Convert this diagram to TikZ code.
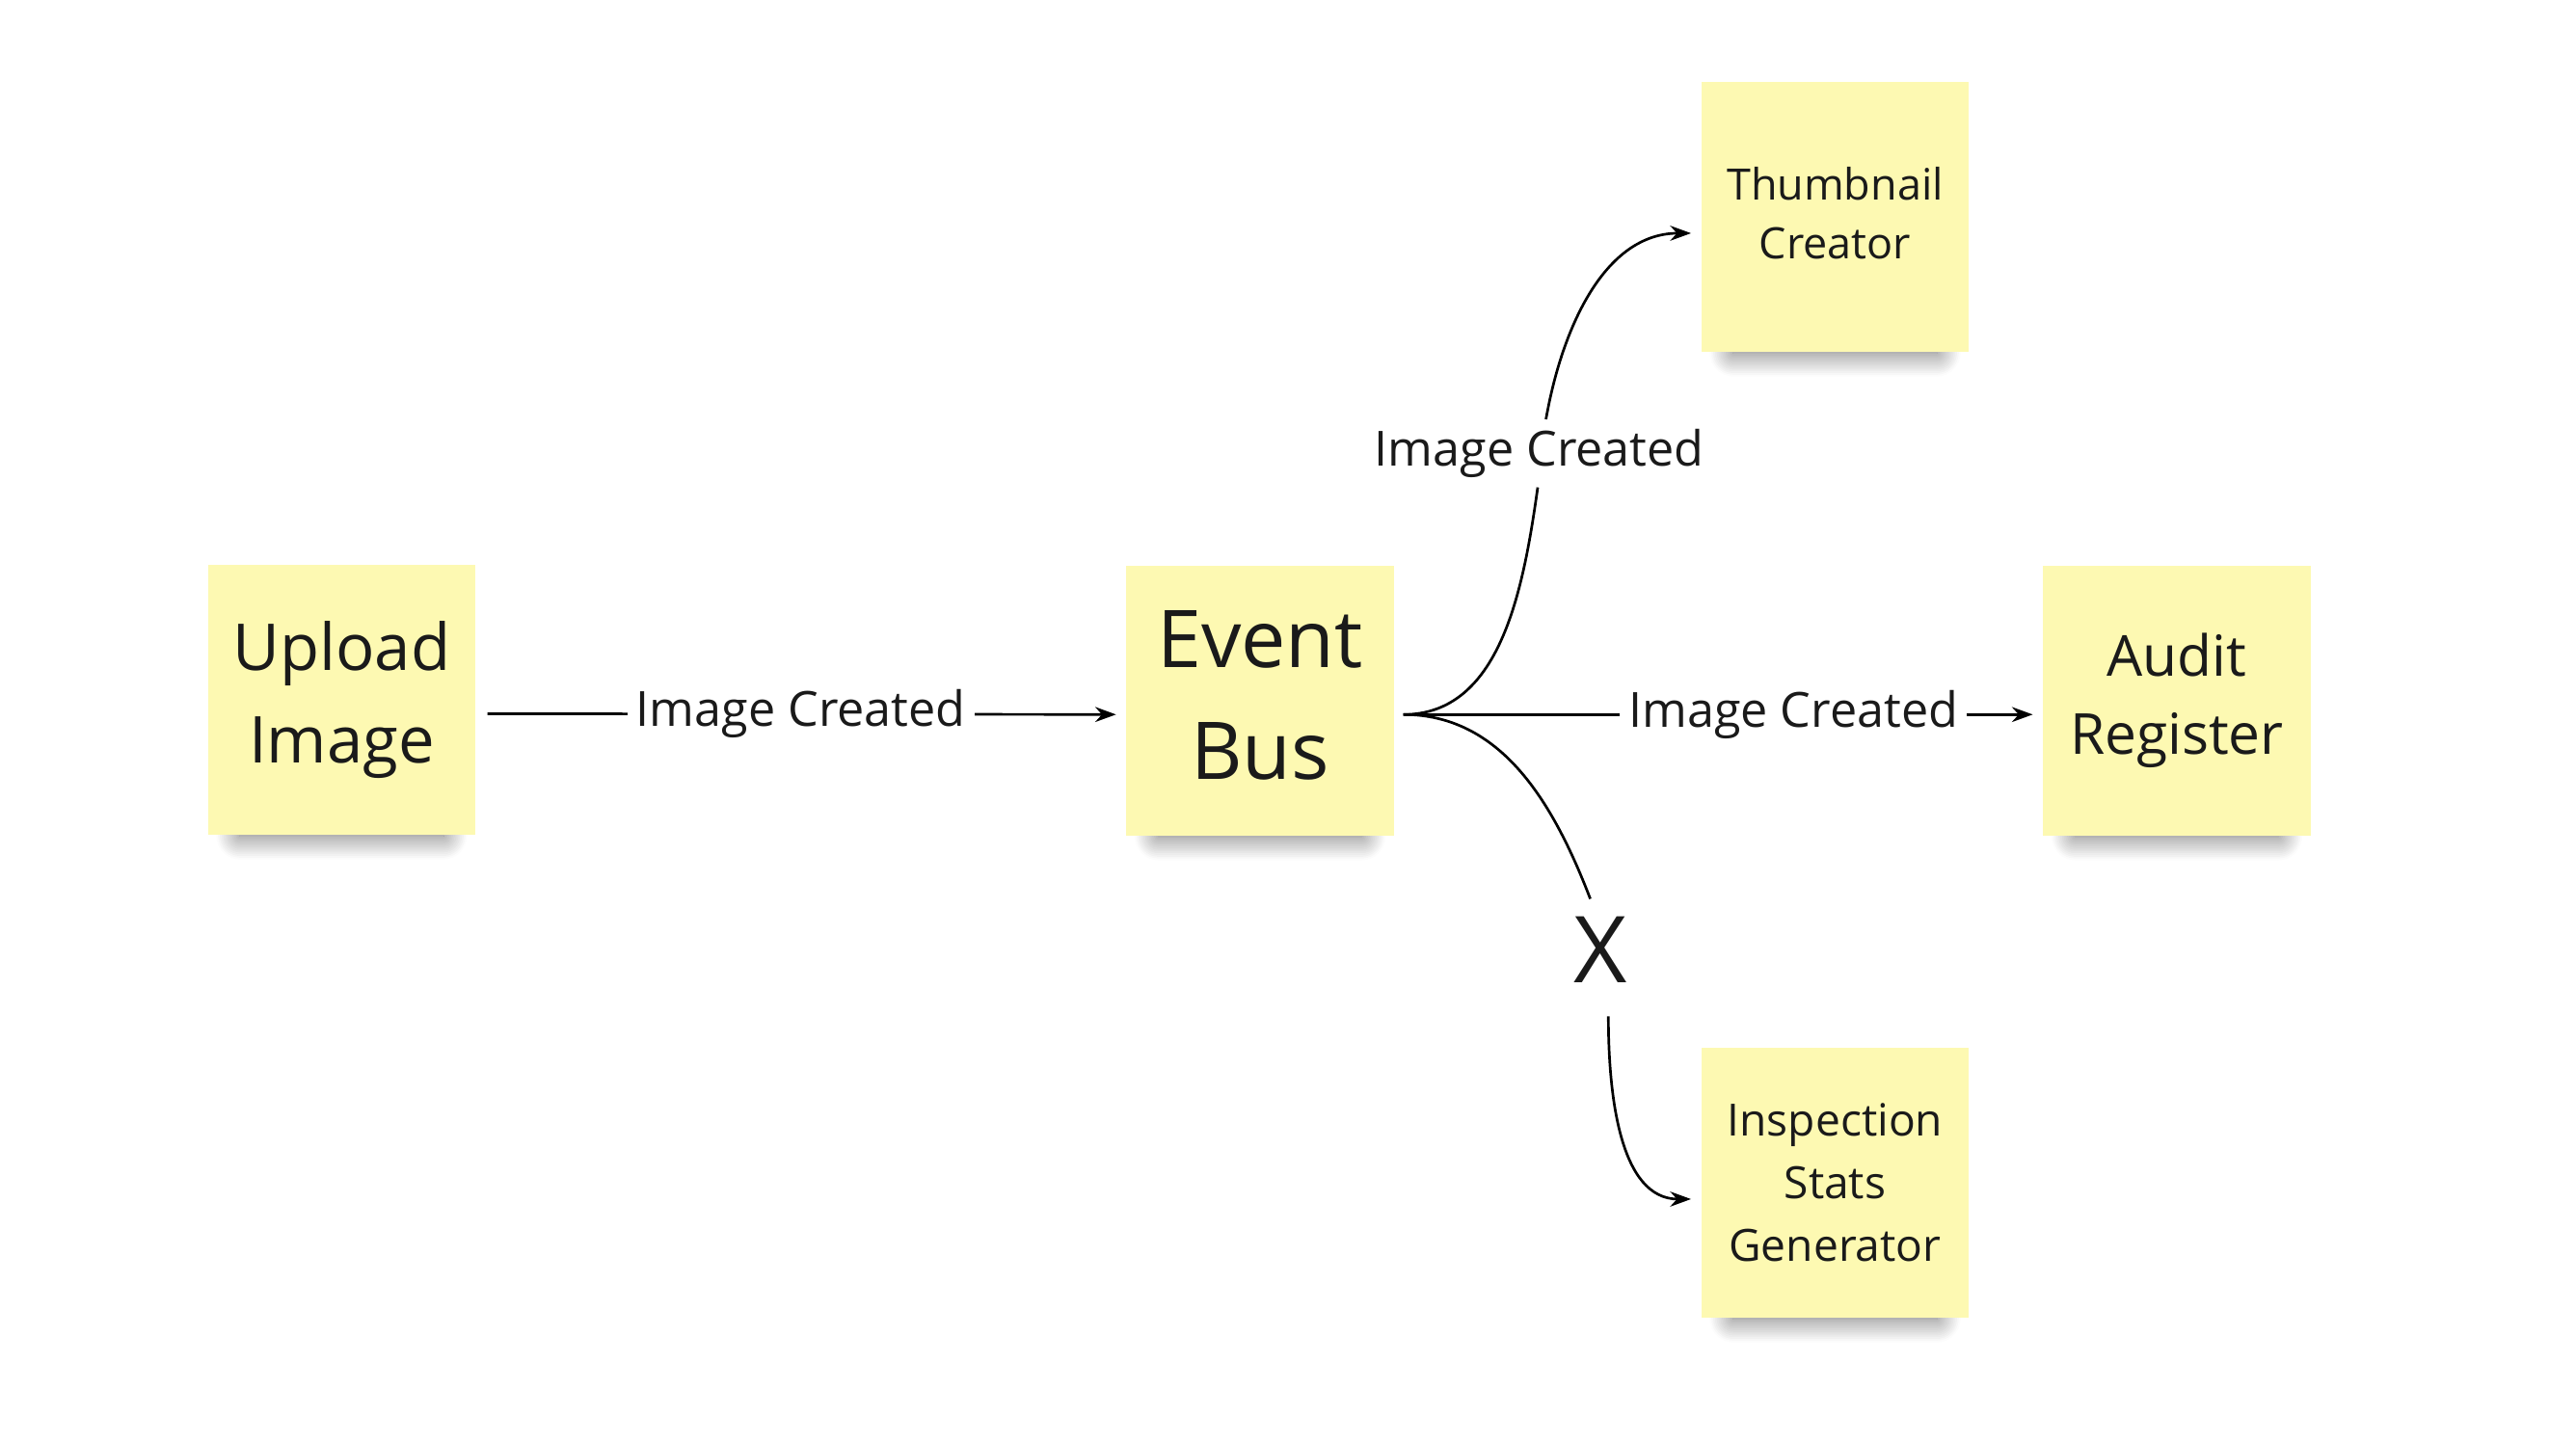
\documentclass[tikz,border=0pt]{standalone}
\usepackage{fontspec}
\setmainfont{Open Sans}
\usetikzlibrary{arrows.meta,shadows.blur}
\definecolor{postit}{RGB}{253,249,178}
\definecolor{encre}{RGB}{26,26,26}

\begin{document}
\begin{tikzpicture}[
    note/.style={fill=postit, text=encre, minimum width=1.63cm, minimum height=1.64cm,
      align=center, inner sep=0pt,
      blur shadow={shadow xshift=0mm, shadow yshift=-2.7mm, shadow scale=0.76,
        shadow opacity=60, shadow blur radius=1.9mm, shadow blur steps=14}},
    wire/.style={line width=0.45pt},
    flow/.style={wire, -{Stealth[length=3.6pt,width=2.6pt]}, shorten >=0.55mm},
    evt/.style={fill=white, text=encre, inner sep=1.5pt, font=\fontsize{8.4}{10}\selectfont}
  ]

    % Cadre de l'image
    \useasboundingbox (0,0) rectangle (15.68,8.78);

    % Décalage vertical des flèches par rapport au centre des post-its
    \pgfmathsetmacro{\dy}{-0.85}

    % Post-its
    \node[note, font=\fontsize{11.2}{16}\selectfont] (upload) at (2.08,4.52)
      {Upload\\Image};
    \node[note, font=\fontsize{13.8}{19.3}\selectfont] (bus) at (7.67,4.515)
      {\raisebox{2pt}{Event}\\\raisebox{2pt}{Bus}};
    \node[note, font=\fontsize{7.5}{10.1}\selectfont] (thumb) at (11.17,7.46)
      {\raisebox{1.3pt}{Thumbnail}\\\raisebox{1.3pt}{Creator}};
    \node[note, font=\fontsize{9.8}{13.6}\selectfont] (audit) at (13.25,4.515)
      {Audit\\Register};
    \node[note, font=\fontsize{7.7}{10.8}\selectfont] (insp) at (11.17,1.58)
      {Inspection\\Stats\\Generator};

    % Upload -> Event Bus
    \draw[flow, shorten <=0.65mm] ([yshift=\dy mm]upload.east) --
      node[evt] (lblup) {Image Created} ([yshift=\dy mm]bus.west);

    % Event Bus -> Audit Register
    \draw[flow, shorten <=0.5mm] ([yshift=\dy mm]bus.east) --
      node[evt, pos=0.616] (lblaudit) {Image Created} ([yshift=\dy mm]audit.west);

    % Event Bus -> Thumbnail Creator
    \node[evt] (lblthumb) at (9.37,6.02) {Image Created};
    \draw[wire, shorten <=0.5mm] ([yshift=\dy mm]bus.east)
      to[out=0, in=-98] ([xshift=-0.1mm]lblthumb.south);
    \draw[flow] ([xshift=0.4mm]lblthumb.north)
      to[out=80, in=180] ([yshift=-1mm]thumb.west);

    % Event Bus -> Inspection Stats Generator (bloqué)
    \node[text=encre, inner sep=0pt, font=\fontsize{16}{18}\selectfont] (xmark) at (9.74,3.00) {X};
    \draw[wire, shorten <=0.5mm] ([yshift=\dy mm]bus.east)
      to[out=0, in=111] ([xshift=-0.6mm,yshift=1mm]xmark.north);
    \draw[flow] ([xshift=0.5mm,yshift=-2mm]xmark.south)
      to[out=-90, in=180] ([yshift=-1mm]insp.west);

\end{tikzpicture}
\end{document}
